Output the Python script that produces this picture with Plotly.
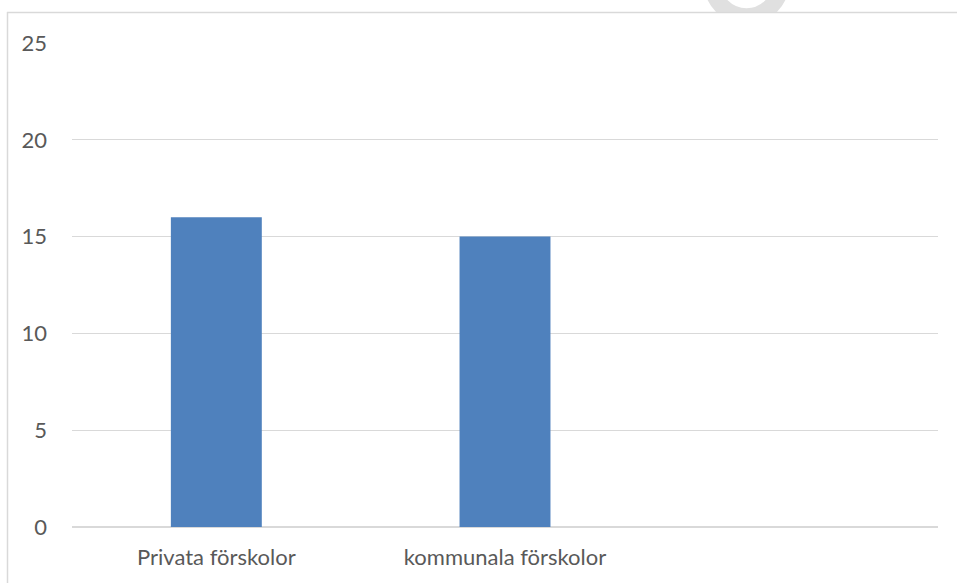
import plotly.graph_objects as go

categories = ["Privata förskolor", "kommunala förskolor", " "]
values = [16, 15, None]
y_ticks = [0, 5, 10, 15, 20, 25]

W, H = 957, 583
L, R, T, B = 72, 19, 43, 56
PW, PH = W - L - R, H - T - B


def px(x):
    # window x -> paper x
    return (x - L) / PW


def py(y):
    # window y -> paper y
    return (H - B - y) / PH


fig = go.Figure()
fig.add_trace(go.Bar(
    x=categories,
    y=values,
    marker=dict(color="#4f81bd", line=dict(width=0)),
    hoverinfo="x+y",
))

border = "#d9d9d9"
cx, cy, rr = 746.5, -18, 34.5
shapes = [
    # faint watermark ring at the top, cut off by the chart frame
    dict(type="circle", xref="paper", yref="paper", layer="below",
         x0=px(cx - rr), x1=px(cx + rr), y0=py(cy + rr), y1=py(cy - rr),
         line=dict(color="#e0e0e0", width=16.5)),
    dict(type="rect", xref="paper", yref="paper", layer="below",
         x0=px(680), x1=px(820), y0=py(12), y1=py(40),
         fillcolor="white", line=dict(width=0)),
    # chart frame (cropped on right/bottom)
    dict(type="line", xref="paper", yref="paper",
         x0=px(7), y0=py(12.5), x1=px(960), y1=py(12.5),
         line=dict(color=border, width=1.5)),
    dict(type="line", xref="paper", yref="paper",
         x0=px(7.5), y0=py(12), x1=px(7.5), y1=py(590),
         line=dict(color=border, width=1.5)),
]

fig.update_layout(
    width=W, height=H,
    margin=dict(l=L, r=R, t=T, b=B),
    paper_bgcolor="white",
    plot_bgcolor="white",
    bargap=0.685,
    showlegend=False,
    font=dict(family="Lato", size=22, color="#595959"),
    shapes=shapes,
    xaxis=dict(
        type="category",
        showgrid=False,
        showline=False,
        ticks="",
        ticklabelstandoff=15,
        tickfont=dict(size=22, color="#595959"),
        fixedrange=True,
    ),
    yaxis=dict(
        range=[0, 25],
        tickvals=y_ticks,
        showgrid=True,
        gridcolor=border,
        gridwidth=1,
        zeroline=True,
        zerolinecolor=border,
        zerolinewidth=1.5,
        showline=False,
        ticks="",
        ticklabelstandoff=24,
        tickfont=dict(size=22, color="#595959"),
        fixedrange=True,
    ),
)

# drop the browser's default body margin so the figure fills the window
fig.write_html("out.html", config={"displayModeBar": False},
               post_script="document.body.style.margin = '0';")
